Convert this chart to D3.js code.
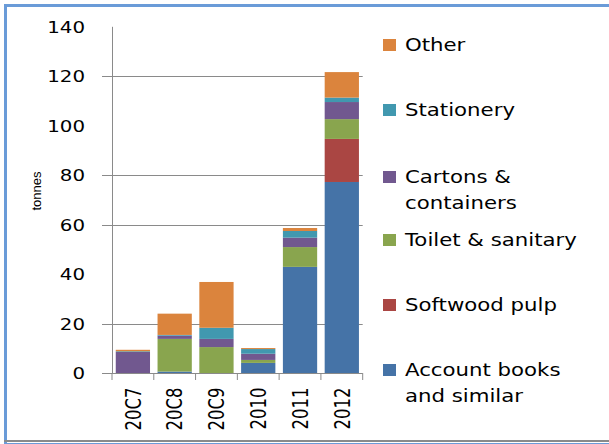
<!DOCTYPE html>
<html><head><meta charset="utf-8">
<script src="https://cdn.jsdelivr.net/npm/d3@7"></script>
<style>body{margin:0;background:#fff}svg{display:block}</style>
</head><body>
<script>
const categories = ["20C7","20C8","20C9","2010","2011","2012"];
const seriesNames = ["Account books and similar","Softwood pulp","Toilet & sanitary","Cartons & containers","Stationery","Other"];
const accountBooks = [0, 0.7, 0, 4.2, 43.0, 77.3];
const softwoodPulp = [0, 0, 0, 0, 0, 17.4];
const toiletSanitary = [0, 13.2, 10.6, 1.2, 8.0, 8.0];
const cartons = [8.6, 1.3, 3.3, 2.5, 3.8, 6.9];
const stationery = [0.3, 0.3, 4.5, 1.9, 2.7, 1.8];
const other = [0.6, 8.6, 18.5, 0.4, 1.2, 10.3];
const colors = ["#4573a7","#aa4643","#89a54e","#71588f","#4198af","#db843d"];
const yTicks = [0,20,40,60,80,100,120,140];
const gridValues = [20,60,80,120];
const legendLines = [["Other"],["Stationery"],["Cartons &","containers"],["Toilet & sanitary"],["Softwood pulp"],["Account books","and similar"]];

const W=609,H=444;
const svg=d3.select("body").append("svg").attr("width",W).attr("height",H);
const font="DejaVu Sans, Verdana, sans-serif";

const data=categories.map((c,i)=>({cat:c,s0:accountBooks[i],s1:softwoodPulp[i],s2:toiletSanitary[i],s3:cartons[i],s4:stationery[i],s5:other[i]}));
const keys=["s0","s1","s2","s3","s4","s5"];
const stacked=d3.stack().keys(keys)(data);

const x=d3.scaleBand().domain(categories).range([112,362.7]).paddingInner(0.18).paddingOuter(0.09);
const y=d3.scaleLinear().domain([0,140]).range([373.3,26.8]);

// gridlines
svg.append("g").selectAll("line").data(gridValues).join("line")
  .attr("x1",102).attr("x2",362.7).attr("y1",d=>Math.round(y(d))+0.5).attr("y2",d=>Math.round(y(d))+0.5)
  .attr("stroke","#8a8a8a").attr("stroke-width",1);

// bars
svg.append("g").selectAll("g").data(stacked).join("g").attr("fill",(d,i)=>colors[i])
  .selectAll("rect").data(d=>d).join("rect")
  .attr("x",d=>x(d.data.cat)).attr("width",x.bandwidth())
  .attr("y",d=>y(d[1])).attr("height",d=>Math.max(0,y(d[0])-y(d[1])));

// y axis
const ya=svg.append("g").attr("transform","translate(112,0)")
  .call(d3.axisLeft(y).tickValues(yTicks).tickSize(0).tickPadding(0).tickFormat(d3.format("d")));
ya.select(".domain").attr("stroke","#8a8a8a").attr("d",`M0.5,${y(140)}V${y(0)}`);
ya.selectAll(".tick text").attr("x",null).attr("text-anchor","end").attr("font-family",font).attr("font-size",16.5)
  .attr("fill","#000").attr("transform","translate(-27,0) scale(1.2,1)");
svg.append("g").selectAll("line").data(yTicks).join("line")
  .attr("x1",102).attr("x2",112).attr("y1",d=>Math.round(y(d))+0.5).attr("y2",d=>Math.round(y(d))+0.5)
  .attr("stroke","#8a8a8a").attr("stroke-opacity",d=>gridValues.includes(d)||d===0?1:0);

// x axis
const xa=svg.append("g").attr("transform",`translate(0,${Math.round(y(0))+0.5})`)
  .call(d3.axisBottom(x).tickSize(0).tickPadding(0));
xa.select(".domain").attr("stroke","#8a8a8a").attr("d","M102,0H362.7");
xa.selectAll(".tick line").remove();
xa.selectAll(".tick text").attr("font-family",font).attr("font-size",16.5).attr("fill","#000")
  .attr("transform","rotate(-90) scale(1,1.3)").attr("text-anchor","end").attr("dx","-14").attr("dy","0.36em").attr("y",0).attr("x",0);
const bounds=categories.map(c=>x(c)-x.step()*x.paddingInner()/2);
bounds.push(362.7);
svg.append("g").selectAll("line").data(bounds).join("line")
  .attr("x1",d=>d).attr("x2",d=>d).attr("y1",373).attr("y2",380)
  .attr("stroke","#8a8a8a");

// y axis title
svg.append("text").attr("transform","translate(41,191) rotate(-90)").attr("text-anchor","middle")
  .attr("font-family","Liberation Sans, Arial, sans-serif").attr("font-size",13).attr("fill","#000").text("tonnes");

// legend
const legY=[45,110,177,240,305,370];
const lg=svg.append("g").selectAll("g").data(legendLines).join("g")
  .attr("transform",(d,i)=>`translate(383,${legY[i]})`);
lg.append("rect").attr("x",0).attr("y",-6).attr("width",13).attr("height",12).attr("fill",(d,i)=>colors[5-i]);
lg.each(function(d){
  const t=d3.select(this).append("text").attr("font-family",font).attr("font-size",18.5).attr("fill","#000")
    .attr("transform","translate(22,0) scale(1.15,1)");
  d.forEach((line,j)=>t.append("tspan").attr("x",0).attr("y",j*26).attr("dy","0.35em").text(line));
});

// border
svg.append("path").attr("d","M5.5,444V5.5H609").attr("fill","none").attr("stroke","#6a9bd8").attr("stroke-width",3);
svg.append("line").attr("x1",4).attr("x2",609).attr("y1",441).attr("y2",441).attr("stroke","#8a8a8a").attr("stroke-width",2);
svg.append("line").attr("x1",4).attr("x2",609).attr("y1",443.5).attr("y2",443.5).attr("stroke","#6a9bd8").attr("stroke-width",1);
</script>
</body></html>
